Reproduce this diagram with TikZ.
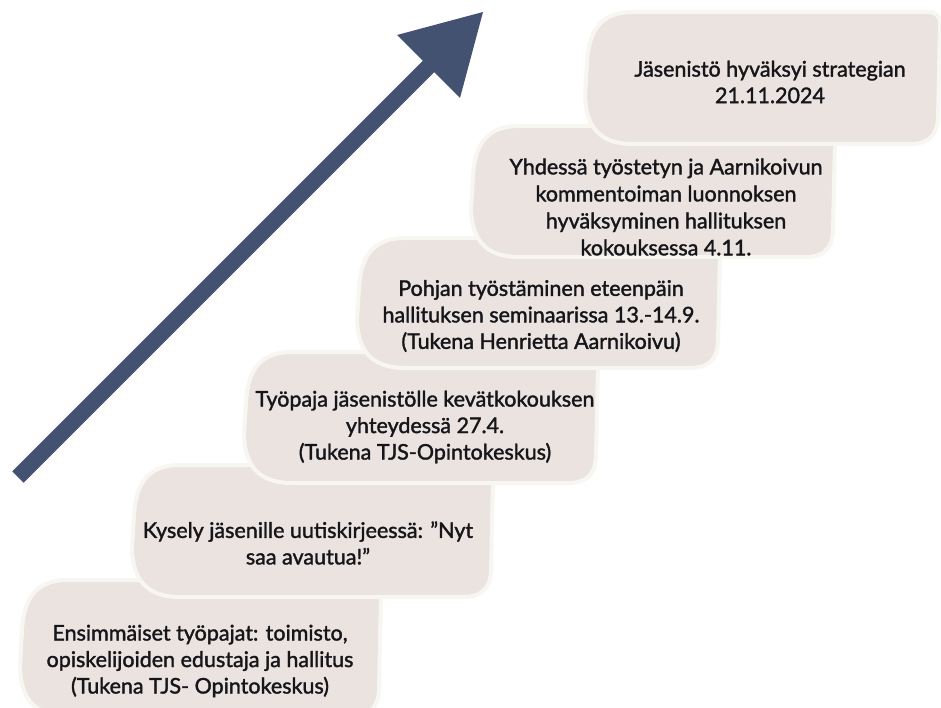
\documentclass[tikz,border=0pt]{standalone}
\usepackage{fontspec}
\setmainfont{Lato}[FakeBold=1.6]
\definecolor{boxfill}{RGB}{234,227,223}
\definecolor{boxedge}{RGB}{248,246,240}
\definecolor{arrowblue}{RGB}{67,82,112}
\definecolor{txt}{RGB}{22,22,26}
\newcommand\stairbox[4]{%
  \filldraw[boxstyle] (#1+48,#2) -- (#3-12,#2)
    .. controls (#3-4,#2) and (#3,#2+4) .. (#3,#2+12)
    -- (#3-2,#4-26)
    .. controls (#3-3,#4-8) and (#3-12,#4) .. (#3-30,#4)
    -- (#1+48,#4)
    .. controls (#1+14,#4) and (#1+1,#4-18) .. (#1,#4-48)
    -- (#1+2,#2+50)
    .. controls (#1+4,#2+16) and (#1+18,#2) .. (#1+48,#2) -- cycle;}
\begin{document}
\begin{tikzpicture}[x=1pt,y=-1pt,
  boxstyle/.style={fill=boxfill,draw=boxedge,line width=4pt,line join=round},
  label/.style={align=center,inner sep=0pt,text=txt,font=\fontsize{21.5}{26.5}\selectfont}]
\useasboundingbox[fill=white] (0,0) rectangle (941,708);
% arrow
\fill[arrowblue] (12.3,471.3) -- (422.8,60.8) -- (397,35) -- (483,12) -- (460,98) -- (434.2,72.2) -- (23.7,482.7) -- cycle;
% steps, lowest first
\stairbox{20}{580}{381}{716}
\stairbox{132}{465}{493}{597}
\stairbox{244}{352}{598}{483}
\stairbox{357}{238}{720}{368}
\stairbox{471}{126}{835}{257}
\stairbox{585}{12}{940}{144}
% texts
\node[label] (t1) at (200,661) {Ensimmäiset työpajat: toimisto,\\opiskelijoiden edustaja ja hallitus\\(Tukena TJS- Opintokeskus)};
\node[label] (t2) at (308,543) {Kysely jäsenille uutiskirjeessä: ”Nyt\\saa avautua!”};
\node[label] (t3) at (425,427) {Työpaja jäsenistölle kevätkokouksen\\yhteydessä 27.4.\\(Tukena TJS-Opintokeskus)};
\node[label] (t4) at (541,316) {Pohjan työstäminen eteenpäin\\hallituksen seminaarissa 13.-14.9.\\(Tukena Henrietta Aarnikoivu)};
\node[label,font=\fontsize{21.5}{27}\selectfont] (t5) at (666,207) {Yhdessä työstetyn ja Aarnikoivun\\kommentoiman luonnoksen\\hyväksyminen hallituksen\\kokouksessa 4.11.};
\node[label] (t6) at (770,82) {Jäsenistö hyväksyi strategian\\21.11.2024};
\end{tikzpicture}
\end{document}
